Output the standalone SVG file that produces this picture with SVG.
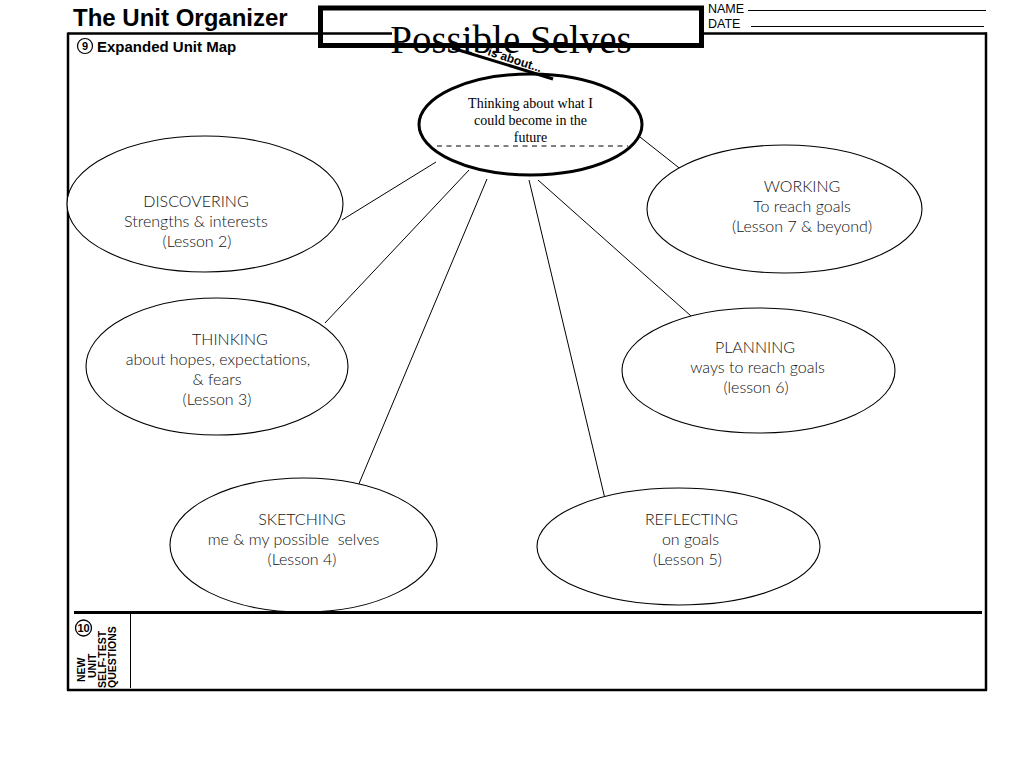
<svg xmlns="http://www.w3.org/2000/svg" width="1024" height="768" viewBox="0 0 1024 768">
<style>
.frame{fill:none;stroke:#000;stroke-width:2.5}
.node{fill:#fff;stroke:#000;stroke-width:1.1}
.lbl{font-family:Lato,"Open Sans",sans-serif;font-size:16px;font-weight:300;fill:#111;text-anchor:middle}
.hdr{font-family:"Liberation Sans",Arial,sans-serif;fill:#000}
.conn line{stroke:#000;stroke-width:1}
</style>
<rect width="1024" height="768" fill="#fff"/>
<g id="header">
<text class="hdr" x="73" y="26" font-size="24" font-weight="bold">The Unit Organizer</text>
<text class="hdr" x="708" y="12.5" font-size="12.5">NAME</text>
<line x1="748" y1="10.5" x2="986" y2="10.5" stroke="#000" stroke-width="1.2"/>
<text class="hdr" x="708" y="28" font-size="12.5">DATE</text>
<line x1="751" y1="26.5" x2="984" y2="26.5" stroke="#000" stroke-width="1.2"/>
</g>
<g id="frame">
<line x1="68" y1="33.5" x2="392" y2="33.5" stroke="#000" stroke-width="2.5"/>
<line x1="703" y1="33.5" x2="987" y2="33.5" stroke="#000" stroke-width="2.5"/>
<line x1="68" y1="32.5" x2="68" y2="690.5" stroke="#000" stroke-width="2.5"/>
<line x1="986" y1="32.5" x2="986" y2="690.5" stroke="#000" stroke-width="2.5"/>
<line x1="67" y1="690" x2="987" y2="690" stroke="#000" stroke-width="2.5"/>
<line x1="130.5" y1="613" x2="130.5" y2="688" stroke="#000" stroke-width="1"/>
</g>
<g id="section9">
<circle cx="85" cy="46" r="7.5" fill="none" stroke="#000" stroke-width="1.2"/>
<text class="hdr" x="85" y="50" font-size="11" font-weight="bold" text-anchor="middle">9</text>
<text class="hdr" x="97" y="52" font-size="15" font-weight="bold">Expanded Unit Map</text>
</g>
<g id="title">
<rect x="320.5" y="8" width="381" height="37.5" fill="none" stroke="#000" stroke-width="5"/>
<text x="511" y="53" font-family="Liberation Serif,'Times New Roman',serif" font-size="39" text-anchor="middle" fill="#000">Possible Selves</text>
</g>
<g id="section10">
<circle cx="83.5" cy="628" r="8" fill="none" stroke="#000" stroke-width="1.3"/>
<text class="hdr" x="83.5" y="632" font-size="11" font-weight="bold" text-anchor="middle">10</text>
<text class="hdr" font-size="10.5" font-weight="bold" transform="translate(84.5,682) rotate(-90)">NEW</text>
<text class="hdr" font-size="10.5" font-weight="bold" transform="translate(95.5,678) rotate(-90)">UNIT</text>
<text class="hdr" font-size="10.5" font-weight="bold" transform="translate(105.5,688) rotate(-90)">SELF-TEST</text>
<text class="hdr" font-size="10.5" font-weight="bold" transform="translate(115.5,688) rotate(-90)">QUESTIONS</text>
</g>
<g class="conn" id="connectors">
<line x1="436" y1="162" x2="342" y2="220"/>
<line x1="469" y1="170" x2="325" y2="323"/>
<line x1="487" y1="179" x2="358" y2="486"/>
<line x1="529" y1="180" x2="606" y2="503"/>
<line x1="538" y1="180" x2="691" y2="316"/>
<line x1="640" y1="137" x2="683" y2="171"/>
</g>
<g id="center">
<ellipse cx="530.5" cy="124.5" rx="111.5" ry="50.5" fill="#fff" stroke="#000" stroke-width="3"/>
<line x1="437" y1="146" x2="628" y2="146" stroke="#000" stroke-width="1" stroke-dasharray="5,4.5"/>
<g font-family="Liberation Serif,'Times New Roman',serif" font-size="14" text-anchor="middle" fill="#000">
<text x="530.5" y="108">Thinking about what I</text>
<text x="530.5" y="125">could become in the</text>
<text x="530.5" y="142">future</text>
</g>
</g>
<g id="is-about" class="conn">
<line x1="452" y1="48" x2="553" y2="79" style="stroke-width:3"/>
<text class="hdr" font-size="12" font-weight="bold" transform="translate(487,55) rotate(18)">is about...</text>
</g>
<g id="discovering">
<ellipse class="node" cx="205" cy="204" rx="138" ry="68"/>
<text class="lbl" x="196" y="207">DISCOVERING</text>
<text class="lbl" x="196" y="227">Strengths &amp; interests</text>
<text class="lbl" x="197" y="247">(Lesson 2)</text>
</g>
<g id="working">
<ellipse class="node" cx="784.5" cy="209" rx="137.5" ry="64"/>
<text class="lbl" x="802" y="192">WORKING</text>
<text class="lbl" x="802" y="212">To reach goals</text>
<text class="lbl" x="802" y="232">(Lesson 7 &amp; beyond)</text>
</g>
<g id="thinking">
<ellipse class="node" cx="217" cy="366.5" rx="131" ry="68.5"/>
<text class="lbl" x="230" y="345">THINKING</text>
<text class="lbl" x="218" y="365">about hopes, expectations,</text>
<text class="lbl" x="217" y="385">&amp; fears</text>
<text class="lbl" x="217" y="405">(Lesson 3)</text>
</g>
<g id="planning">
<ellipse class="node" cx="758.5" cy="370.5" rx="136.5" ry="62.5"/>
<text class="lbl" x="755" y="353">PLANNING</text>
<text class="lbl" x="757.5" y="373">ways to reach goals</text>
<text class="lbl" x="756" y="393">(lesson 6)</text>
</g>
<g id="sketching">
<ellipse class="node" cx="303.5" cy="545" rx="133.5" ry="67"/>
<text class="lbl" x="302" y="525">SKETCHING</text>
<text class="lbl" x="293.5" y="545" xml:space="preserve">me &amp; my possible  selves</text>
<text class="lbl" x="302" y="565">(Lesson 4)</text>
</g>
<g id="reflecting">
<ellipse class="node" cx="678.5" cy="546.5" rx="141.5" ry="58.5"/>
<text class="lbl" x="691.5" y="525">REFLECTING</text>
<text class="lbl" x="690.5" y="545">on goals</text>
<text class="lbl" x="687.5" y="565">(Lesson 5)</text>
</g>
<g id="divider">
<line x1="74" y1="612.5" x2="982" y2="612.5" stroke="#000" stroke-width="3"/>
</g>
</svg>
